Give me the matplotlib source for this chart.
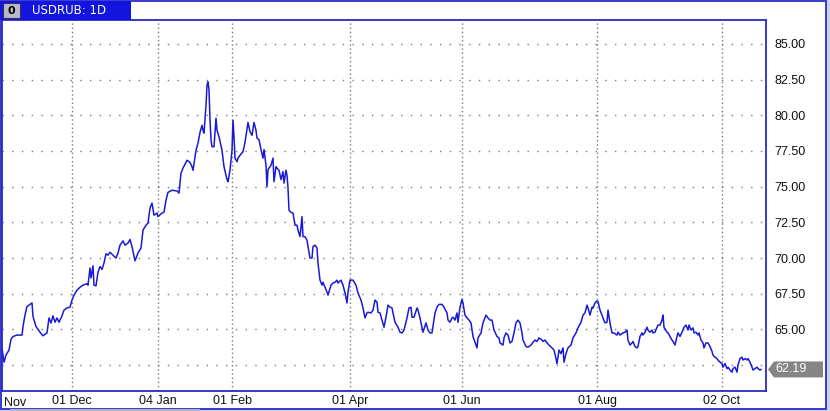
import matplotlib.pyplot as plt
import matplotlib.patches as patches
import matplotlib.transforms as mtrans

# USDRUB daily closes, position along the session axis and rate
pos = [2, 4, 6, 9, 11, 13, 17, 22, 23, 25, 27, 32, 33, 36, 40, 43, 47, 49, 51, 53,
       55, 57, 59, 62, 64, 67, 70, 72, 74, 77, 80, 83, 87, 88, 90, 91, 93, 94, 96, 98,
       100, 102, 104, 106, 108, 110, 113, 116, 118, 120, 123,
       125, 128, 130, 132, 135, 138, 141, 143, 146, 148, 150, 152, 154, 157, 158, 162, 164, 166, 168, 172,
       177, 179, 181, 183, 187, 190, 192, 193, 196, 198, 200, 202, 203, 204, 206, 207, 208, 209, 210, 211,
       212, 214, 216, 217, 219, 222, 224, 227, 228, 230, 232, 233, 234, 235, 237, 238, 240, 243, 245, 248,
       250, 252, 254, 256, 257, 259, 261, 263, 264, 266, 267, 268, 271, 273, 274, 276, 277, 279, 281, 283,
       284, 286, 287, 288, 289, 291, 293, 295, 297, 298, 300, 302, 303, 305, 307, 308, 310, 312, 313, 315,
       317, 318, 320, 322, 323, 325, 327, 328, 331, 333, 335, 337, 338, 341, 343, 345, 347, 348, 350, 353,
       356, 358, 361, 363, 365, 367, 368, 371, 373,
       375, 377, 378, 380, 382, 384, 386, 388, 390, 392, 393, 395, 398, 400, 402, 404, 407, 409, 411, 412,
       414, 417, 418, 420, 422, 423, 426, 428, 430, 432, 435, 437, 439, 442, 444, 447, 448, 450, 452, 453,
       455, 457, 458, 460, 462, 463, 465, 467, 469, 471, 473, 475, 477, 478, 481, 483, 486, 488, 490, 492,
       494, 497, 499,
       500, 503, 504, 506, 508, 510, 512, 514, 516, 518, 520, 522, 523, 526, 528, 531, 533, 535, 537, 539,
       542, 543, 545, 547, 549, 552, 554, 556, 557, 559, 561, 563, 564, 566, 568, 571, 573, 576, 578, 581,
       583, 585, 587, 588, 590, 592, 593, 595, 597, 598, 600, 602, 603, 605, 607, 608, 610, 612, 614, 617,
       618, 620, 623,
       625, 627, 628, 630, 632, 633, 635, 637, 638, 640, 642, 643, 645, 647, 648, 650, 652, 653, 655, 657,
       658, 660, 662, 663, 664, 667, 668, 670, 672, 673, 675, 677, 678, 680, 682, 684, 686, 688, 689, 691,
       693, 694, 696, 698, 699, 701, 703, 704, 706, 708, 710, 712, 713, 715, 717, 718, 720, 722, 723, 725,
       727, 728, 730, 732, 733, 735, 737, 738, 740, 742, 743, 745, 747, 748, 750, 752, 753, 755, 757, 758,
       760, 761]

usdrub = [63.7, 62.7, 63.2, 63.55, 64.3, 64.5, 64.6, 64.6, 65.2, 66.0, 66.6, 66.85, 65.9, 65.2, 64.8, 64.55, 64.75, 65.8, 65.45, 65.95,
          65.5, 65.8, 65.5, 65.95, 66.35, 66.5, 66.55, 67.05, 67.4, 67.75, 67.95, 68.1, 68.2, 68.1, 69.3, 68.6, 69.45, 68.1, 68.05, 69.0,
          69.4, 69.2, 69.65, 70.3, 70.2, 70.4, 70.2, 70.0, 70.35, 70.9, 71.2,
          70.9, 71.05, 71.3, 70.8, 69.8, 70.35, 70.7, 71.95, 72.3, 72.45, 73.5, 73.85, 73.0, 73.15, 72.9, 73.15, 73.2, 74.05, 74.6, 74.75,
          74.7, 74.55, 75.95, 76.3, 76.85, 76.7, 76.4, 76.15, 77.55, 78.05, 78.8, 79.3, 78.95, 78.75, 80.7, 82.1, 82.35, 81.8, 79.7, 78.3,
          77.8, 77.8, 79.8, 78.95, 78.5, 77.55, 76.4, 75.5, 75.35, 76.15, 77.55, 79.65, 78.5, 77.0, 76.75, 77.0, 77.2, 77.45, 78.1, 79.5,
          78.85, 78.6, 79.5, 78.95, 78.4, 78.3, 77.6, 77.0, 77.6, 76.5, 75.0, 76.2, 76.5, 77.0, 75.35, 76.4, 76.3, 76.15, 75.5, 76.05,
          75.25, 76.15, 75.8, 74.9, 73.35, 73.2, 73.15, 72.3, 72.3, 71.95, 71.5, 72.9, 71.5, 71.5, 71.25, 70.8, 70.0, 70.0, 70.8, 70.9,
          70.7, 69.65, 68.45, 68.1, 68.3, 67.95, 67.6, 67.4, 68.1, 68.25, 68.3, 68.45, 68.25, 68.45, 68.1, 67.55, 66.85, 67.6, 68.45, 68.45,
          68.1, 67.55, 67.05, 66.5, 65.8, 66.15, 66.2, 66.15, 66.35,
          67.05, 66.9, 66.2, 66.15, 65.65, 65.15, 65.85, 66.7, 66.55, 66.5, 66.15, 65.5, 65.15, 64.8, 64.75, 64.95, 65.8, 66.5, 66.55, 65.85,
          65.85, 66.5, 66.35, 65.8, 65.15, 64.8, 65.45, 64.95, 64.75, 64.75, 66.15, 66.55, 66.75, 66.75, 66.55, 66.15, 65.65, 65.5, 65.8, 65.85,
          65.65, 66.15, 65.5, 66.55, 67.1, 66.85, 66.0, 65.8, 65.65, 65.45, 64.5, 64.1, 63.7, 64.4, 64.75, 65.45, 66.0, 65.8, 65.65, 65.65,
          64.95, 64.5, 64.4,
          64.05, 63.9, 64.4, 64.75, 64.6, 64.05, 64.15, 64.75, 65.45, 65.65, 65.45, 64.75, 64.25, 63.8, 63.75, 63.9, 64.1, 64.25, 64.15, 64.4,
          64.25, 64.15, 64.25, 64.05, 63.9, 63.7, 63.55, 62.95, 62.6, 63.55, 63.3, 63.7, 62.7, 63.3, 63.7, 63.9, 64.4, 64.75, 65.1, 65.5,
          66.0, 66.15, 66.7, 66.5, 66.0, 66.55, 66.5, 66.85, 67.0, 66.95, 66.35, 66.0, 65.8, 65.45, 65.5, 66.35, 65.45, 64.75, 64.75, 64.6,
          64.8, 64.6, 64.75,
          64.8, 64.95, 64.25, 63.9, 64.05, 64.15, 63.8, 63.7, 63.8, 64.5, 64.75, 64.6, 64.8, 65.15, 64.95, 64.8, 64.95, 64.75, 64.8, 65.15,
          65.3, 65.3, 65.65, 66.0, 65.15, 64.8, 64.75, 64.5, 64.25, 64.15, 63.9, 64.5, 64.75, 64.5, 64.8, 65.15, 65.3, 64.95, 65.3, 64.95,
          65.1, 64.75, 64.8, 64.6, 64.75, 64.25, 64.05, 63.7, 64.05, 64.05, 63.8, 63.45, 63.2, 63.05, 62.95, 62.85, 62.7, 62.6, 62.35, 62.6,
          62.25, 62.35, 62.15, 62.0, 62.25, 62.35, 62.0, 62.5, 62.95, 63.05, 62.85, 62.95, 62.85, 62.95, 62.7, 62.35, 62.15, 62.25, 62.35, 62.25,
          62.15, 62.19]

# x axis labels (session positions of the month grid lines)
tick_pos = [72, 158, 232, 350, 462, 597, 722]
tick_labels = ['01 Dec', '04 Jan', '01 Feb', '01 Apr', '01 Jun', '01 Aug', '02 Oct']
price_ticks = [62.5, 65.0, 67.5, 70.0, 72.5, 75.0, 77.5, 80.0, 82.5, 85.0]

W, H = 830, 411
blue = '#1414e0'
frame = '#2a2ac8'
grid_col = '#7a7a7a'

fig = plt.figure(figsize=(W / 100, H / 100), dpi=100)
fig.patch.set_facecolor('white')

# plot area in pixels: x 2..766, y 20..391 (from top)
ax = fig.add_axes([2 / W, (H - 391) / H, 764 / W, 371 / H])
ax.set_facecolor('white')

ax.plot(pos, usdrub, color='#1a1ad6', lw=1.1)

ax.set_xlim(2, 766)
ax.set_ylim(60.68, 86.68)

ax.set_xticks(tick_pos)
ax.set_xticklabels(tick_labels, fontsize=9, family='Liberation Sans', color='#111111')
shift = mtrans.ScaledTranslation(4 / 100, 0, fig.dpi_scale_trans)
for lab in ax.get_xticklabels():
    lab.set_transform(lab.get_transform() + shift)
ax.tick_params(axis='x', length=0, pad=3)

# the 62.50 label sits under the last price marker, so it is left blank
ax.yaxis.tick_right()
ax.set_yticks(price_ticks)
ax.set_yticklabels(['' if v == 62.5 else '%.2f' % v for v in price_ticks], fontsize=9,
                   family='Liberation Sans', color='#111111')
ax.tick_params(axis='y', length=0, pad=6)

# sparse dots for price lines, dense dots for date lines
for v in price_ticks:
    ax.axhline(v, color=grid_col, lw=1, linestyle=(0, (1, 6)), zorder=0)
for p in tick_pos:
    ax.axvline(p, color=grid_col, lw=1, linestyle=(0, (1, 2)), zorder=0)

for s in ax.spines.values():
    s.set_color(frame)
    s.set_linewidth(1.3)

# "Nov" at the very left
ax.text(0.002, -0.016, 'Nov', transform=ax.transAxes, ha='left', va='top',
        fontsize=9, family='Liberation Sans', color='#111111')

px = mtrans.IdentityTransform()

# outer frame and light strips outside it
fig.add_artist(patches.Rectangle((826, 0), 4, H, transform=px, color='#c9d2ea', lw=0))
fig.add_artist(patches.Rectangle((0, 0), W, 2, transform=px, color='#c9d2ea', lw=0))
fig.add_artist(patches.Rectangle((1, 2.5), 824.5, H - 3.5, transform=px, fill=False,
                                 edgecolor=frame, lw=1.3))
fig.add_artist(patches.Rectangle((10, 0), 190, 2, transform=px, color='#aab4cc', lw=0))

# title tab
fig.add_artist(patches.Rectangle((0, H - 20), 131, 19, transform=px, color=blue, lw=0))
fig.add_artist(patches.Rectangle((3, H - 18), 17, 15, transform=px, facecolor='#b8b8c8',
                                 edgecolor='#333355', lw=0.8))
fig.text(11.5 / W, (H - 10.5) / H, '0', ha='center', va='center', fontsize=8,
         family='DejaVu Sans', weight='bold', color='black')
fig.text(32 / W, (H - 10.5) / H, 'USDRUB: 1D', ha='left', va='center', fontsize=8.5,
         family='DejaVu Sans', color='white')

# last price marker
last = usdrub[-1]
yl = ax.transData.transform((pos[-1], last))[1]
fig.add_artist(patches.Polygon([(768, yl), (774, yl + 8), (823, yl + 8), (823, yl - 8), (774, yl - 8)],
                               closed=True, transform=px, color='#858585', lw=0))
fig.text(775 / W, yl / H, '%.2f' % last, ha='left', va='center', fontsize=9,
         family='Liberation Sans', color='white')

fig.savefig('out.png', dpi=100)
